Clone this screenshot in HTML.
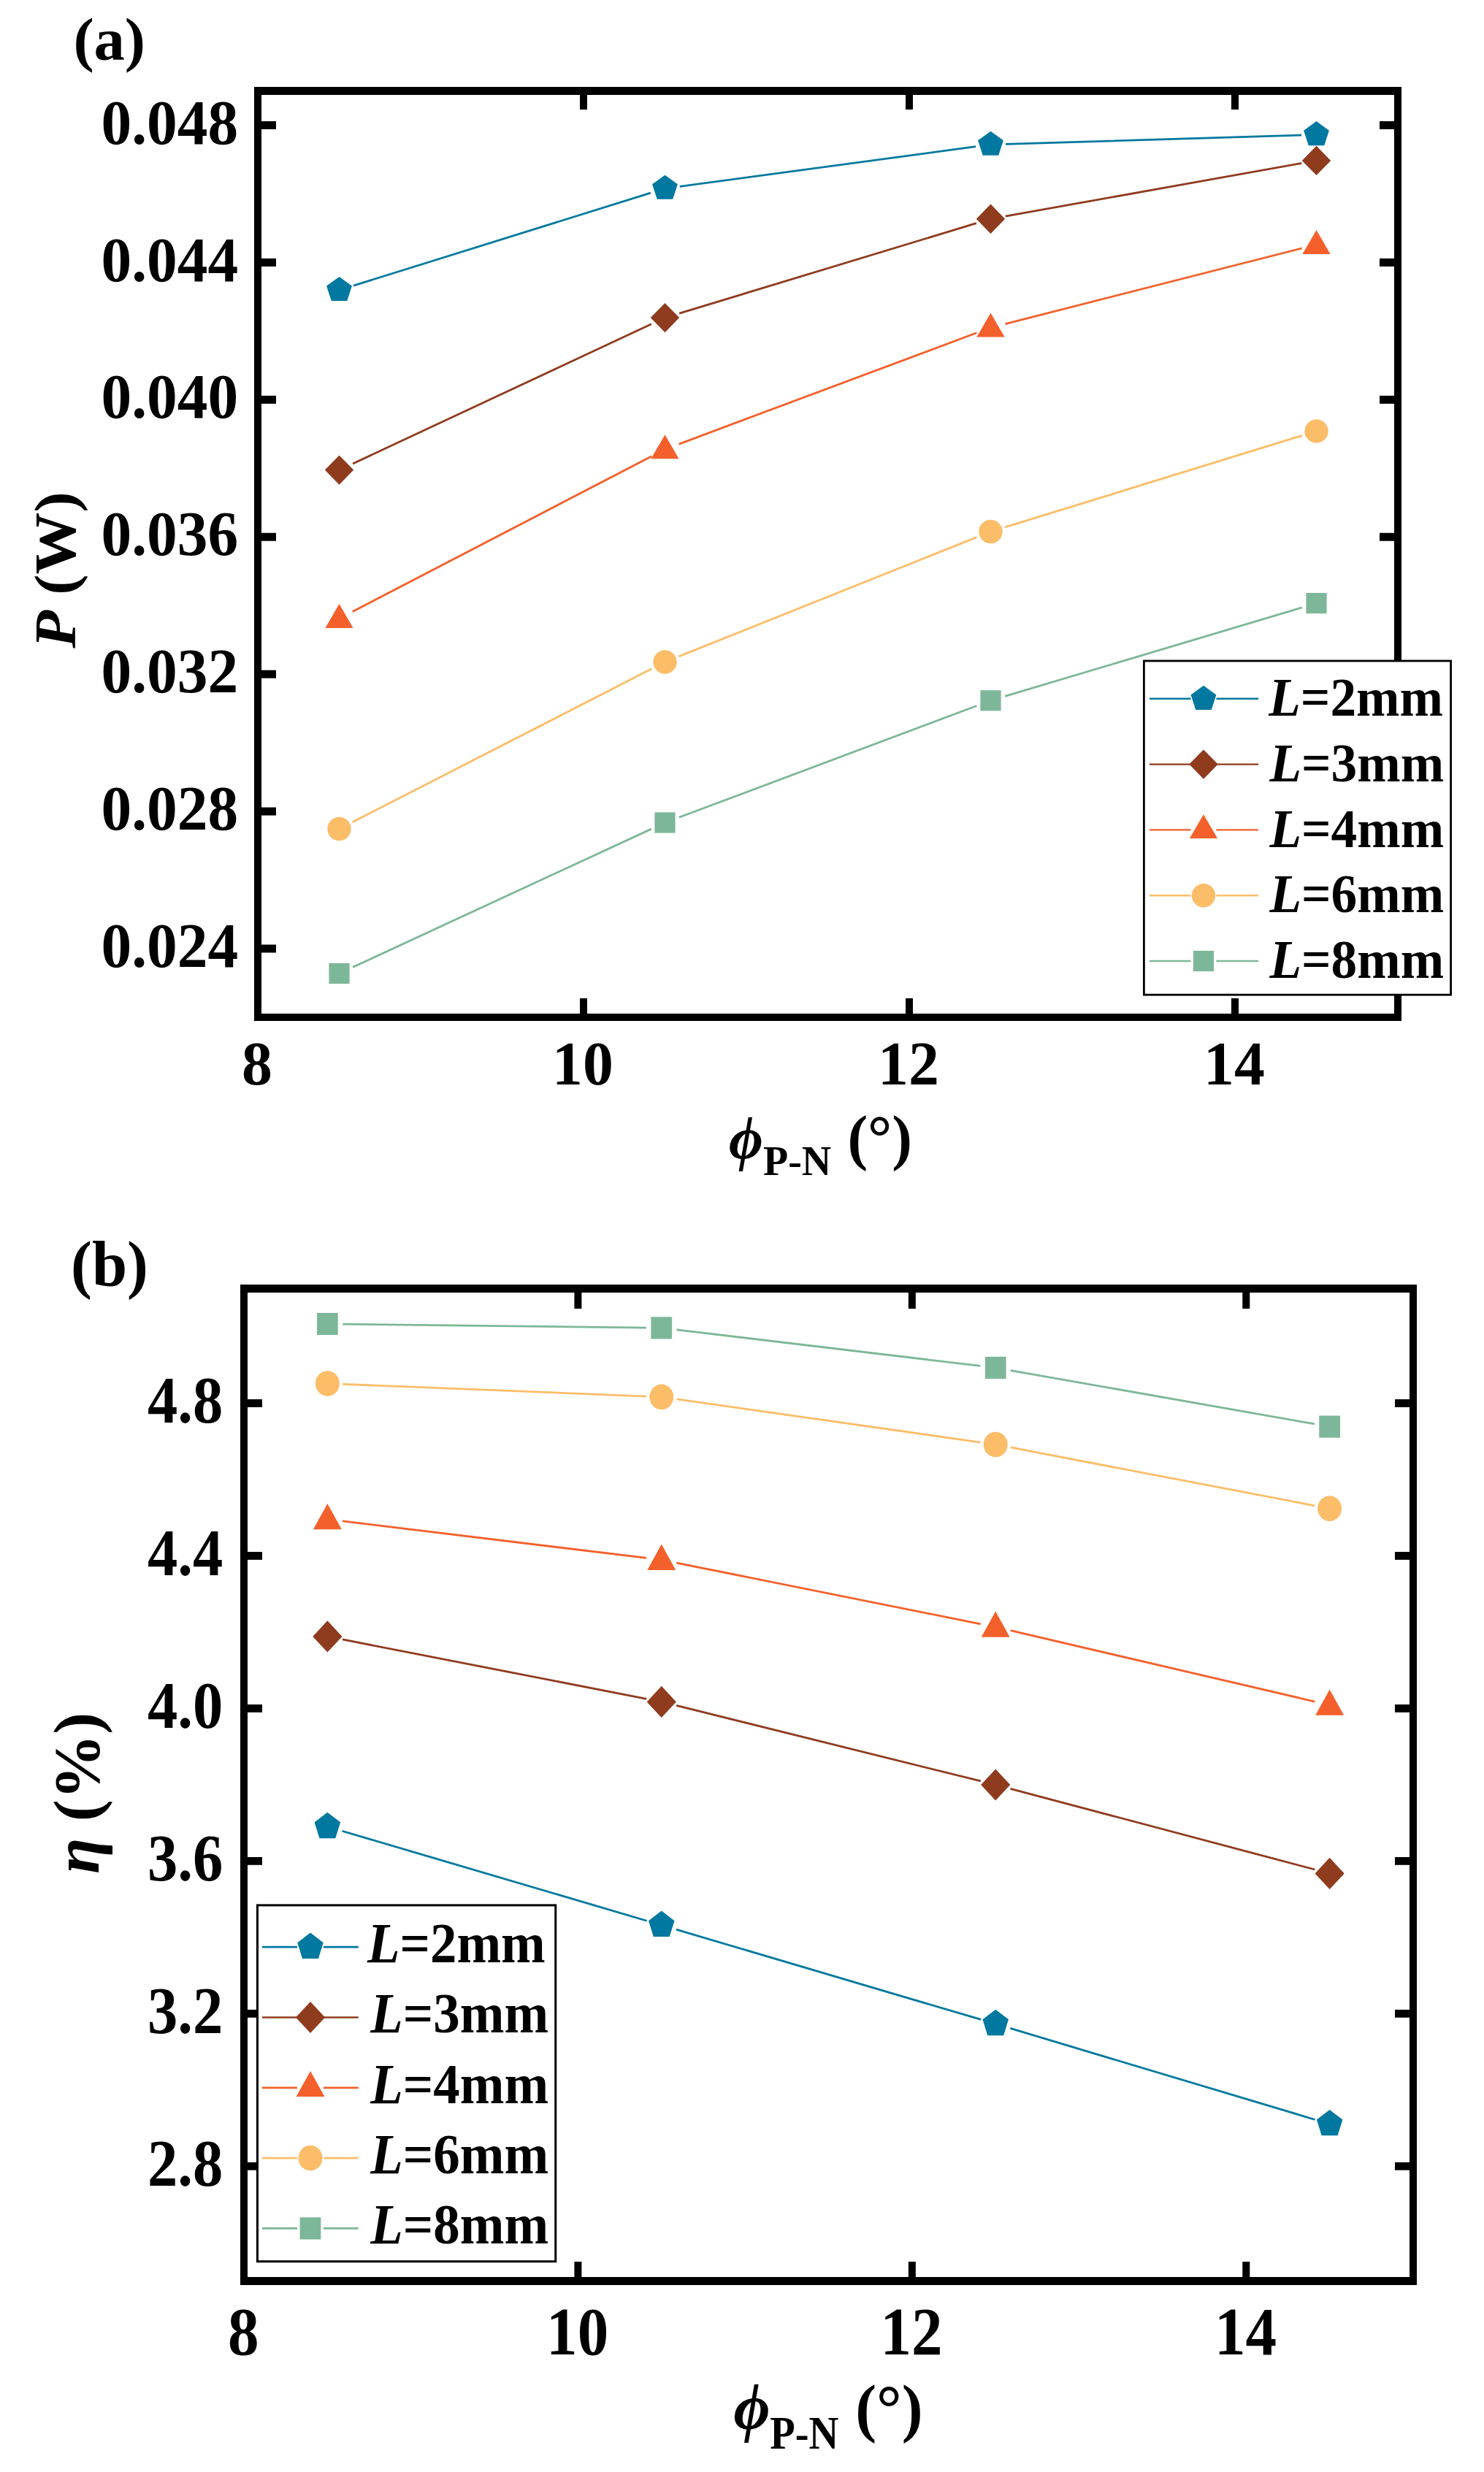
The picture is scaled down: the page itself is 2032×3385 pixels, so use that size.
<!DOCTYPE html>
<html><head><meta charset="utf-8"><title>Figure</title>
<style>
html,body{margin:0;padding:0;background:#fff;width:2032px;height:3385px;overflow:hidden}
svg{display:block}
.t{font-family:"Liberation Serif", "Times New Roman", serif;fill:#000}
</style></head>
<body>
<svg width="2032" height="3385" viewBox="0 0 2032 3385" shape-rendering="geometricPrecision">
<rect x="0" y="0" width="2032" height="3385" fill="#fff"/>
<path d="M484.07,391.09L890.93,264.11M930.82,255.27L1336.18,200.73M1376.99,197.38L1782.01,185.02" stroke="#01789f" stroke-width="2.8" fill="none"/>
<path d="M483.07,634.92L891.93,443.78M930.12,429.14L1336.88,305.66M1376.68,296.09L1782.32,223.51" stroke="#8f3b1e" stroke-width="2.8" fill="none"/>
<path d="M482.69,837.55L892.31,624.75M929.70,608.12L1337.30,455.78M1376.36,443.54L1782.64,339.96" stroke="#f4602b" stroke-width="2.8" fill="none"/>
<path d="M482.74,1125.65L892.26,915.85M929.53,898.88L1337.47,735.62M1376.09,721.96L1782.91,596.44" stroke="#fcbd69" stroke-width="2.8" fill="none"/>
<path d="M483.10,1324.39L891.90,1135.11M929.70,1119.30L1337.30,966.50M1376.14,953.43L1782.86,831.87" stroke="#7db799" stroke-width="2.8" fill="none"/>
<polygon points="464.50,378.90 481.90,391.54 475.26,412.01 453.74,412.01 447.10,391.54" fill="#01789f"/>
<polygon points="910.50,239.70 927.90,252.34 921.26,272.81 899.74,272.81 893.10,252.34" fill="#01789f"/>
<polygon points="1356.50,179.70 1373.90,192.34 1367.26,212.81 1345.74,212.81 1339.10,192.34" fill="#01789f"/>
<polygon points="1802.50,166.10 1819.90,178.74 1813.26,199.21 1791.74,199.21 1785.10,178.74" fill="#01789f"/>
<polygon points="464.50,623.40 484.20,643.60 464.50,663.80 444.80,643.60" fill="#8f3b1e"/>
<polygon points="910.50,414.90 930.20,435.10 910.50,455.30 890.80,435.10" fill="#8f3b1e"/>
<polygon points="1356.50,279.50 1376.20,299.70 1356.50,319.90 1336.80,299.70" fill="#8f3b1e"/>
<polygon points="1802.50,199.70 1822.20,219.90 1802.50,240.10 1782.80,219.90" fill="#8f3b1e"/>
<polygon points="464.50,827.00 483.60,860.00 445.40,860.00" fill="#f4602b"/>
<polygon points="910.50,595.30 929.60,628.30 891.40,628.30" fill="#f4602b"/>
<polygon points="1356.50,428.60 1375.60,461.60 1337.40,461.60" fill="#f4602b"/>
<polygon points="1802.50,314.90 1821.60,347.90 1783.40,347.90" fill="#f4602b"/>
<ellipse cx="464.50" cy="1135.00" rx="16.20" ry="16.20" fill="#fcbd69"/>
<ellipse cx="910.50" cy="906.50" rx="16.20" ry="16.20" fill="#fcbd69"/>
<ellipse cx="1356.50" cy="728.00" rx="16.20" ry="16.20" fill="#fcbd69"/>
<ellipse cx="1802.50" cy="590.40" rx="16.20" ry="16.20" fill="#fcbd69"/>
<rect x="450.40" y="1318.90" width="28.20" height="28.20" fill="#7db799"/>
<rect x="896.40" y="1112.40" width="28.20" height="28.20" fill="#7db799"/>
<rect x="1342.40" y="945.20" width="28.20" height="28.20" fill="#7db799"/>
<rect x="1788.40" y="811.90" width="28.20" height="28.20" fill="#7db799"/>
<rect x="348.00" y="119.00" width="10.00" height="1279.00" fill="#000"/>
<rect x="1909.00" y="119.00" width="10.00" height="1279.00" fill="#000"/>
<rect x="348.00" y="119.00" width="1571.00" height="11.00" fill="#000"/>
<rect x="348.00" y="1388.00" width="1571.00" height="10.00" fill="#000"/>
<rect x="358.00" y="166.00" width="20.00" height="11.00" fill="#000"/>
<rect x="1889.00" y="166.00" width="20.00" height="11.00" fill="#000"/>
<rect x="358.00" y="353.92" width="20.00" height="11.00" fill="#000"/>
<rect x="1889.00" y="353.92" width="20.00" height="11.00" fill="#000"/>
<rect x="358.00" y="541.83" width="20.00" height="11.00" fill="#000"/>
<rect x="1889.00" y="541.83" width="20.00" height="11.00" fill="#000"/>
<rect x="358.00" y="729.75" width="20.00" height="11.00" fill="#000"/>
<rect x="1889.00" y="729.75" width="20.00" height="11.00" fill="#000"/>
<rect x="358.00" y="917.67" width="20.00" height="11.00" fill="#000"/>
<rect x="1889.00" y="917.67" width="20.00" height="11.00" fill="#000"/>
<rect x="358.00" y="1105.58" width="20.00" height="11.00" fill="#000"/>
<rect x="1889.00" y="1105.58" width="20.00" height="11.00" fill="#000"/>
<rect x="358.00" y="1293.50" width="20.00" height="11.00" fill="#000"/>
<rect x="1889.00" y="1293.50" width="20.00" height="11.00" fill="#000"/>
<rect x="794.00" y="1367.00" width="10.00" height="21.00" fill="#000"/>
<rect x="794.00" y="130.00" width="10.00" height="20.00" fill="#000"/>
<rect x="1240.00" y="1367.00" width="10.00" height="21.00" fill="#000"/>
<rect x="1240.00" y="130.00" width="10.00" height="20.00" fill="#000"/>
<rect x="1686.00" y="1367.00" width="10.00" height="21.00" fill="#000"/>
<rect x="1686.00" y="130.00" width="10.00" height="20.00" fill="#000"/>
<rect x="1566.40" y="905.00" width="420.20" height="457.20" fill="#fff" stroke="#000" stroke-width="2.8"/>
<path d="M1574,956.80H1630.50M1665.50,956.80H1723" stroke="#01789f" stroke-width="2.4"/>
<polygon points="1648.00,938.80 1665.40,951.44 1658.76,971.91 1637.24,971.91 1630.60,951.44" fill="#01789f"/>
<path d="M1574,1046.60H1630.50M1665.50,1046.60H1723" stroke="#8f3b1e" stroke-width="2.4"/>
<polygon points="1648.00,1026.40 1667.70,1046.60 1648.00,1066.80 1628.30,1046.60" fill="#8f3b1e"/>
<path d="M1574,1136.40H1630.50M1665.50,1136.40H1723" stroke="#f4602b" stroke-width="2.4"/>
<polygon points="1648.00,1115.20 1667.10,1147.90 1628.90,1147.90" fill="#f4602b"/>
<path d="M1574,1226.20H1630.50M1665.50,1226.20H1723" stroke="#fcbd69" stroke-width="2.4"/>
<ellipse cx="1648.00" cy="1226.20" rx="16.20" ry="16.20" fill="#fcbd69"/>
<path d="M1574,1316.00H1630.50M1665.50,1316.00H1723" stroke="#7db799" stroke-width="2.4"/>
<rect x="1633.90" y="1301.90" width="28.20" height="28.20" fill="#7db799"/>
<g transform="translate(100.38,82.07) scale(0.9841,0.9676)"><text class="t k_a_lab" x="0" y="0" font-size="86" font-weight="bold" font-style="normal" text-anchor="start">(a)</text></g>
<g transform="translate(326.21,196.61) scale(0.9698,1.0023)"><text class="t k_a_yt" x="0" y="0" font-size="86" font-weight="bold" font-style="normal" text-anchor="end">0.048</text></g>
<g transform="translate(326.21,384.52) scale(0.9698,1.0023)"><text class="t k_a_yt" x="0" y="0" font-size="86" font-weight="bold" font-style="normal" text-anchor="end">0.044</text></g>
<g transform="translate(326.21,572.44) scale(0.9698,1.0023)"><text class="t k_a_yt" x="0" y="0" font-size="86" font-weight="bold" font-style="normal" text-anchor="end">0.040</text></g>
<g transform="translate(326.21,760.36) scale(0.9698,1.0023)"><text class="t k_a_yt" x="0" y="0" font-size="86" font-weight="bold" font-style="normal" text-anchor="end">0.036</text></g>
<g transform="translate(326.21,948.27) scale(0.9698,1.0023)"><text class="t k_a_yt" x="0" y="0" font-size="86" font-weight="bold" font-style="normal" text-anchor="end">0.032</text></g>
<g transform="translate(326.21,1136.19) scale(0.9698,1.0023)"><text class="t k_a_yt" x="0" y="0" font-size="86" font-weight="bold" font-style="normal" text-anchor="end">0.028</text></g>
<g transform="translate(326.21,1324.11) scale(0.9698,1.0023)"><text class="t k_a_yt" x="0" y="0" font-size="86" font-weight="bold" font-style="normal" text-anchor="end">0.024</text></g>
<g transform="translate(352.01,1485.24) scale(0.9748,0.9893)"><text class="t k_a_xt" x="0" y="0" font-size="86" font-weight="bold" font-style="normal" text-anchor="middle">8</text></g>
<g transform="translate(798.01,1485.24) scale(0.9748,0.9893)"><text class="t k_a_xt" x="0" y="0" font-size="86" font-weight="bold" font-style="normal" text-anchor="middle">10</text></g>
<g transform="translate(1244.01,1485.24) scale(0.9748,0.9893)"><text class="t k_a_xt" x="0" y="0" font-size="86" font-weight="bold" font-style="normal" text-anchor="middle">12</text></g>
<g transform="translate(1690.01,1485.24) scale(0.9748,0.9893)"><text class="t k_a_xt" x="0" y="0" font-size="86" font-weight="bold" font-style="normal" text-anchor="middle">14</text></g>
<g transform="translate(103.41,887.85) rotate(-90) scale(0.9877,0.9468)"><text class="t k_a_ylab" x="0" y="0" font-size="86" font-weight="bold" font-style="normal" text-anchor="start"><tspan font-style="italic">P</tspan> (W)</text></g>
<g transform="translate(998.06,1585.72) scale(0.9440,0.9618)"><text class="t k_a_xphi" x="0" y="0" font-size="86" font-weight="bold" font-style="italic" text-anchor="start">ϕ</text></g>
<g transform="translate(1045.05,1609.00) scale(0.9819,0.9962)"><text class="t k_a_xsub" x="0" y="0" font-size="57" font-weight="bold" font-style="normal" text-anchor="start">P-N</text></g>
<g transform="translate(1160.40,1586.12) scale(0.9660,0.9719)"><text class="t k_a_xpar" x="0" y="0" font-size="86" font-weight="bold" font-style="normal" text-anchor="start">(°)</text></g>
<g transform="translate(1737.23,980.09) scale(0.9905,1.0184)"><text class="t k_a_leg" x="0" y="0" font-size="72" font-weight="bold" font-style="normal" text-anchor="start"><tspan font-style="italic">L</tspan>=2mm</text></g>
<g transform="translate(1738.43,1069.89) scale(0.9905,1.0184)"><text class="t k_a_leg" x="0" y="0" font-size="72" font-weight="bold" font-style="normal" text-anchor="start"><tspan font-style="italic">L</tspan>=3mm</text></g>
<g transform="translate(1738.43,1159.69) scale(0.9905,1.0184)"><text class="t k_a_leg" x="0" y="0" font-size="72" font-weight="bold" font-style="normal" text-anchor="start"><tspan font-style="italic">L</tspan>=4mm</text></g>
<g transform="translate(1738.43,1249.49) scale(0.9905,1.0184)"><text class="t k_a_leg" x="0" y="0" font-size="72" font-weight="bold" font-style="normal" text-anchor="start"><tspan font-style="italic">L</tspan>=6mm</text></g>
<g transform="translate(1738.43,1339.29) scale(0.9905,1.0184)"><text class="t k_a_leg" x="0" y="0" font-size="72" font-weight="bold" font-style="normal" text-anchor="start"><tspan font-style="italic">L</tspan>=8mm</text></g>
<path d="M468.49,2507.24L885.66,2630.26M925.91,2642.15L1343.09,2765.45M1383.32,2777.43L1800.54,2902.47" stroke="#01789f" stroke-width="2.8" fill="none"/>
<path d="M468.91,2244.92L885.23,2326.38M926.13,2335.45L1342.87,2438.95M1383.49,2449.38L1800.37,2560.02" stroke="#8f3b1e" stroke-width="2.8" fill="none"/>
<path d="M469.13,2082.83L885.02,2133.47M926.32,2140.13L1342.68,2223.77M1383.62,2232.67L1800.23,2330.03" stroke="#f4602b" stroke-width="2.8" fill="none"/>
<path d="M469.25,1895.34L884.89,1912.06M926.51,1915.85L1342.49,1975.05M1383.78,1981.94L1800.07,2061.76" stroke="#fcbd69" stroke-width="2.8" fill="none"/>
<path d="M469.27,1813.15L884.88,1818.15M926.56,1820.88L1342.44,1870.42M1383.83,1876.54L1800.02,1949.96" stroke="#7db799" stroke-width="2.8" fill="none"/>
<polygon points="448.36,2481.72 466.11,2495.25 459.33,2517.14 437.39,2517.14 430.60,2495.25" fill="#01789f"/>
<polygon points="905.79,2616.62 923.54,2630.15 916.76,2652.04 894.81,2652.04 888.03,2630.15" fill="#01789f"/>
<polygon points="1363.21,2751.82 1380.97,2765.35 1374.19,2787.24 1352.24,2787.24 1345.46,2765.35" fill="#01789f"/>
<polygon points="1820.64,2888.92 1838.40,2902.45 1831.61,2924.34 1809.67,2924.34 1802.89,2902.45" fill="#01789f"/>
<polygon points="448.36,2219.29 468.45,2240.90 448.36,2262.51 428.26,2240.90" fill="#8f3b1e"/>
<polygon points="905.79,2308.79 925.88,2330.40 905.79,2352.01 885.69,2330.40" fill="#8f3b1e"/>
<polygon points="1363.21,2422.39 1383.31,2444.00 1363.21,2465.61 1343.12,2444.00" fill="#8f3b1e"/>
<polygon points="1820.64,2543.79 1840.74,2565.40 1820.64,2587.01 1800.55,2565.40" fill="#8f3b1e"/>
<polygon points="448.36,2058.90 467.84,2094.21 428.88,2094.21" fill="#f4602b"/>
<polygon points="905.79,2114.60 925.27,2149.91 886.30,2149.91" fill="#f4602b"/>
<polygon points="1363.21,2206.50 1382.70,2241.81 1343.73,2241.81" fill="#f4602b"/>
<polygon points="1820.64,2313.40 1840.12,2348.71 1801.16,2348.71" fill="#f4602b"/>
<ellipse cx="448.36" cy="1894.50" rx="16.52" ry="17.33" fill="#fcbd69"/>
<ellipse cx="905.79" cy="1912.90" rx="16.52" ry="17.33" fill="#fcbd69"/>
<ellipse cx="1363.21" cy="1978.00" rx="16.52" ry="17.33" fill="#fcbd69"/>
<ellipse cx="1820.64" cy="2065.70" rx="16.52" ry="17.33" fill="#fcbd69"/>
<rect x="433.98" y="1797.81" width="28.76" height="30.17" fill="#7db799"/>
<rect x="891.40" y="1803.31" width="28.76" height="30.17" fill="#7db799"/>
<rect x="1348.83" y="1857.81" width="28.76" height="30.17" fill="#7db799"/>
<rect x="1806.26" y="1938.51" width="28.76" height="30.17" fill="#7db799"/>
<rect x="329.00" y="1759.00" width="10.00" height="1370.00" fill="#000"/>
<rect x="1930.00" y="1759.00" width="10.00" height="1370.00" fill="#000"/>
<rect x="329.00" y="1759.00" width="1611.00" height="11.00" fill="#000"/>
<rect x="329.00" y="3118.00" width="1611.00" height="11.00" fill="#000"/>
<rect x="339.00" y="1916.10" width="20.00" height="10.80" fill="#000"/>
<rect x="1910.00" y="1916.10" width="20.00" height="10.80" fill="#000"/>
<rect x="339.00" y="2125.06" width="20.00" height="10.80" fill="#000"/>
<rect x="1910.00" y="2125.06" width="20.00" height="10.80" fill="#000"/>
<rect x="339.00" y="2334.02" width="20.00" height="10.80" fill="#000"/>
<rect x="1910.00" y="2334.02" width="20.00" height="10.80" fill="#000"/>
<rect x="339.00" y="2542.98" width="20.00" height="10.80" fill="#000"/>
<rect x="1910.00" y="2542.98" width="20.00" height="10.80" fill="#000"/>
<rect x="339.00" y="2751.94" width="20.00" height="10.80" fill="#000"/>
<rect x="1910.00" y="2751.94" width="20.00" height="10.80" fill="#000"/>
<rect x="339.00" y="2960.90" width="20.00" height="10.80" fill="#000"/>
<rect x="1910.00" y="2960.90" width="20.00" height="10.80" fill="#000"/>
<rect x="786.43" y="3097.00" width="10.00" height="21.00" fill="#000"/>
<rect x="786.43" y="1770.00" width="10.00" height="22.00" fill="#000"/>
<rect x="1243.86" y="3097.00" width="10.00" height="21.00" fill="#000"/>
<rect x="1243.86" y="1770.00" width="10.00" height="22.00" fill="#000"/>
<rect x="1701.29" y="3097.00" width="10.00" height="21.00" fill="#000"/>
<rect x="1701.29" y="1770.00" width="10.00" height="22.00" fill="#000"/>
<rect x="352.45" y="2608.90" width="408.30" height="487.80" fill="#fff" stroke="#000" stroke-width="3"/>
<path d="M359,2666.20H407.00M443.00,2666.20H490.7" stroke="#01789f" stroke-width="2.7"/>
<polygon points="425.00,2646.62 442.75,2660.15 435.97,2682.04 414.03,2682.04 407.25,2660.15" fill="#01789f"/>
<path d="M359,2762.50H407.00M443.00,2762.50H490.7" stroke="#8f3b1e" stroke-width="2.7"/>
<polygon points="425.00,2740.89 445.09,2762.50 425.00,2784.11 404.91,2762.50" fill="#8f3b1e"/>
<path d="M359,2858.80H407.00M443.00,2858.80H490.7" stroke="#f4602b" stroke-width="2.7"/>
<polygon points="425.00,2836.12 444.48,2871.10 405.52,2871.10" fill="#f4602b"/>
<path d="M359,2955.10H407.00M443.00,2955.10H490.7" stroke="#fcbd69" stroke-width="2.7"/>
<ellipse cx="425.00" cy="2955.10" rx="16.52" ry="17.33" fill="#fcbd69"/>
<path d="M359,3051.40H407.00M443.00,3051.40H490.7" stroke="#7db799" stroke-width="2.7"/>
<rect x="410.62" y="3036.31" width="28.76" height="30.17" fill="#7db799"/>
<g transform="translate(97.09,1760.88) scale(1.0071,1.0328)"><text class="t k_b_lab" x="0" y="0" font-size="86" font-weight="bold" font-style="normal" text-anchor="start">(b)</text></g>
<g transform="translate(305.18,1947.87) scale(0.9602,1.0548)"><text class="t k_b_yt" x="0" y="0" font-size="86" font-weight="bold" font-style="normal" text-anchor="end">4.8</text></g>
<g transform="translate(305.18,2156.83) scale(0.9602,1.0548)"><text class="t k_b_yt" x="0" y="0" font-size="86" font-weight="bold" font-style="normal" text-anchor="end">4.4</text></g>
<g transform="translate(305.18,2365.79) scale(0.9602,1.0548)"><text class="t k_b_yt" x="0" y="0" font-size="86" font-weight="bold" font-style="normal" text-anchor="end">4.0</text></g>
<g transform="translate(305.18,2574.75) scale(0.9602,1.0548)"><text class="t k_b_yt" x="0" y="0" font-size="86" font-weight="bold" font-style="normal" text-anchor="end">3.6</text></g>
<g transform="translate(305.18,2783.71) scale(0.9602,1.0548)"><text class="t k_b_yt" x="0" y="0" font-size="86" font-weight="bold" font-style="normal" text-anchor="end">3.2</text></g>
<g transform="translate(305.18,2992.67) scale(0.9602,1.0548)"><text class="t k_b_yt" x="0" y="0" font-size="86" font-weight="bold" font-style="normal" text-anchor="end">2.8</text></g>
<g transform="translate(333.20,3224.42) scale(0.9894,1.0746)"><text class="t k_b_xt" x="0" y="0" font-size="86" font-weight="bold" font-style="normal" text-anchor="middle">8</text></g>
<g transform="translate(790.63,3224.42) scale(0.9894,1.0746)"><text class="t k_b_xt" x="0" y="0" font-size="86" font-weight="bold" font-style="normal" text-anchor="middle">10</text></g>
<g transform="translate(1248.05,3224.42) scale(0.9894,1.0746)"><text class="t k_b_xt" x="0" y="0" font-size="86" font-weight="bold" font-style="normal" text-anchor="middle">12</text></g>
<g transform="translate(1705.48,3224.42) scale(0.9894,1.0746)"><text class="t k_b_xt" x="0" y="0" font-size="86" font-weight="bold" font-style="normal" text-anchor="middle">14</text></g>
<g transform="translate(134.90,2565.83) rotate(-90) scale(1.0427,1.0319)"><text class="t k_b_ylab" x="0" y="0" font-size="86" font-weight="bold" font-style="normal" text-anchor="start"><tspan font-style="italic">η</tspan> (%)</text></g>
<g transform="translate(1004.51,3326.01) scale(1.0058,1.0208)"><text class="t k_b_xphi" x="0" y="0" font-size="86" font-weight="bold" font-style="italic" text-anchor="start">ϕ</text></g>
<g transform="translate(1054.16,3353.07) scale(0.9915,1.1135)"><text class="t k_b_xsub" x="0" y="0" font-size="57" font-weight="bold" font-style="normal" text-anchor="start">P-N</text></g>
<g transform="translate(1171.18,3327.01) scale(1.0074,1.0335)"><text class="t k_b_xpar" x="0" y="0" font-size="86" font-weight="bold" font-style="normal" text-anchor="start">(°)</text></g>
<g transform="translate(503.07,2686.93) scale(1.0115,1.0950)"><text class="t k_b_leg" x="0" y="0" font-size="72" font-weight="bold" font-style="normal" text-anchor="start"><tspan font-style="italic">L</tspan>=2mm</text></g>
<g transform="translate(507.37,2783.23) scale(1.0115,1.0950)"><text class="t k_b_leg" x="0" y="0" font-size="72" font-weight="bold" font-style="normal" text-anchor="start"><tspan font-style="italic">L</tspan>=3mm</text></g>
<g transform="translate(507.37,2879.53) scale(1.0115,1.0950)"><text class="t k_b_leg" x="0" y="0" font-size="72" font-weight="bold" font-style="normal" text-anchor="start"><tspan font-style="italic">L</tspan>=4mm</text></g>
<g transform="translate(507.37,2975.83) scale(1.0115,1.0950)"><text class="t k_b_leg" x="0" y="0" font-size="72" font-weight="bold" font-style="normal" text-anchor="start"><tspan font-style="italic">L</tspan>=6mm</text></g>
<g transform="translate(507.37,3072.13) scale(1.0115,1.0950)"><text class="t k_b_leg" x="0" y="0" font-size="72" font-weight="bold" font-style="normal" text-anchor="start"><tspan font-style="italic">L</tspan>=8mm</text></g>
</svg>
</body></html>
